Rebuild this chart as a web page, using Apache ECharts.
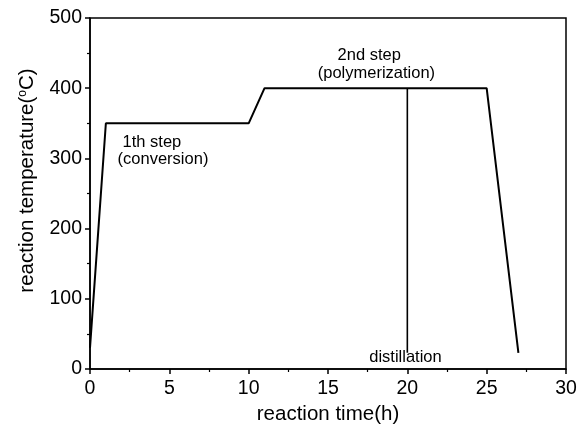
<!DOCTYPE html>
<html>
<head>
<meta charset="utf-8">
<script src="https://cdn.jsdelivr.net/npm/echarts@6/dist/echarts.min.js"></script>
<style>
html,body{margin:0;padding:0;background:#fff;}
#chart{width:586px;height:424px;}
</style>
</head>
<body>
<div id="chart"></div>
<script>
// Temperature programme of the reaction
var timeH = [0, 1, 10, 11, 25, 27];
var tempC = [30, 350, 350, 400, 400, 23];

// Distillation cut at 20 h
var distTime = [20, 20];
var distTemp = [400, 23];

// Step annotations: [time, temperature, text]
var notes = [
  [3.9, 323, '1th step'],
  [4.6, 298, '(conversion)'],
  [17.6, 447, '2nd step'],
  [18.05, 421, '(polymerization)'],
  [19.88, 17, 'distillation']
];

var xTicks = [0, 5, 10, 15, 20, 25, 30];
var yTicks = [0, 100, 200, 300, 400, 500];

function pairs(xs, ys) {
  return xs.map(function (x, i) { return [x, ys[i]]; });
}

var font = 'Liberation Sans, Arial, sans-serif';
var chart = echarts.init(document.getElementById('chart'));
chart.setOption({
  animation: false,
  backgroundColor: '#fff',
  grid: {
    left: 90, right: 20, top: 18, bottom: 55,
    outerBoundsMode: 'none',
    containLabel: false,
    show: true, borderColor: '#000', borderWidth: 1.5
  },
  xAxis: {
    type: 'value',
    min: xTicks[0], max: xTicks[xTicks.length - 1], interval: 5,
    name: 'reaction time(h)',
    nameLocation: 'middle', nameGap: 28,
    nameTextStyle: { fontFamily: font, fontSize: 20.5, color: '#000' },
    axisLine: { onZero: false, lineStyle: { color: '#000', width: 1.5 } },
    axisTick: { inside: false, length: 5, lineStyle: { color: '#000', width: 1.5 } },
    minorTick: { show: true, splitNumber: 2, length: 3, lineStyle: { color: '#000', width: 1.2 } },
    axisLabel: { fontFamily: font, fontSize: 19.5, color: '#000', margin: 10 },
    splitLine: { show: false }
  },
  yAxis: {
    type: 'value',
    min: yTicks[0], max: yTicks[yTicks.length - 1], interval: 100,
    name: '{t|reaction temperature(}{s|o}{t|C)}',
    nameLocation: 'middle', nameGap: 52, nameRotate: 90,
    nameTextStyle: {
      fontFamily: font, fontSize: 20.5, color: '#000',
      padding: [0, 0, 0, 26],
      rich: {
        t: { fontFamily: font, fontSize: 20.5, color: '#000' },
        s: { fontFamily: font, fontSize: 12, color: '#000', verticalAlign: 'top', padding: [0, 0, 9, 0] }
      }
    },
    axisLine: { onZero: false, lineStyle: { color: '#000', width: 1.5 } },
    axisTick: { inside: false, length: 5, lineStyle: { color: '#000', width: 1.5 } },
    minorTick: { show: true, splitNumber: 2, length: 3, lineStyle: { color: '#000', width: 1.2 } },
    axisLabel: { fontFamily: font, fontSize: 19.5, color: '#000', margin: 8 },
    splitLine: { show: false }
  },
  series: [
    {
      type: 'line',
      data: pairs(timeH, tempC),
      symbol: 'none',
      lineStyle: { color: '#000', width: 2 },
      z: 3
    },
    {
      type: 'line',
      data: pairs(distTime, distTemp),
      symbol: 'none',
      lineStyle: { color: '#000', width: 1.6 },
      z: 3
    },
    {
      type: 'scatter',
      data: notes.map(function (n) { return { value: [n[0], n[1]], name: n[2] }; }),
      symbolSize: 0,
      silent: true,
      itemStyle: { opacity: 1 },
      label: {
        show: true, position: 'inside',
        formatter: function (p) { return p.name; },
        fontFamily: font, fontSize: 16.5, color: '#000',
        opacity: 1, textBorderWidth: 0
      },
      z: 4
    }
  ]
});
</script>
</body>
</html>
